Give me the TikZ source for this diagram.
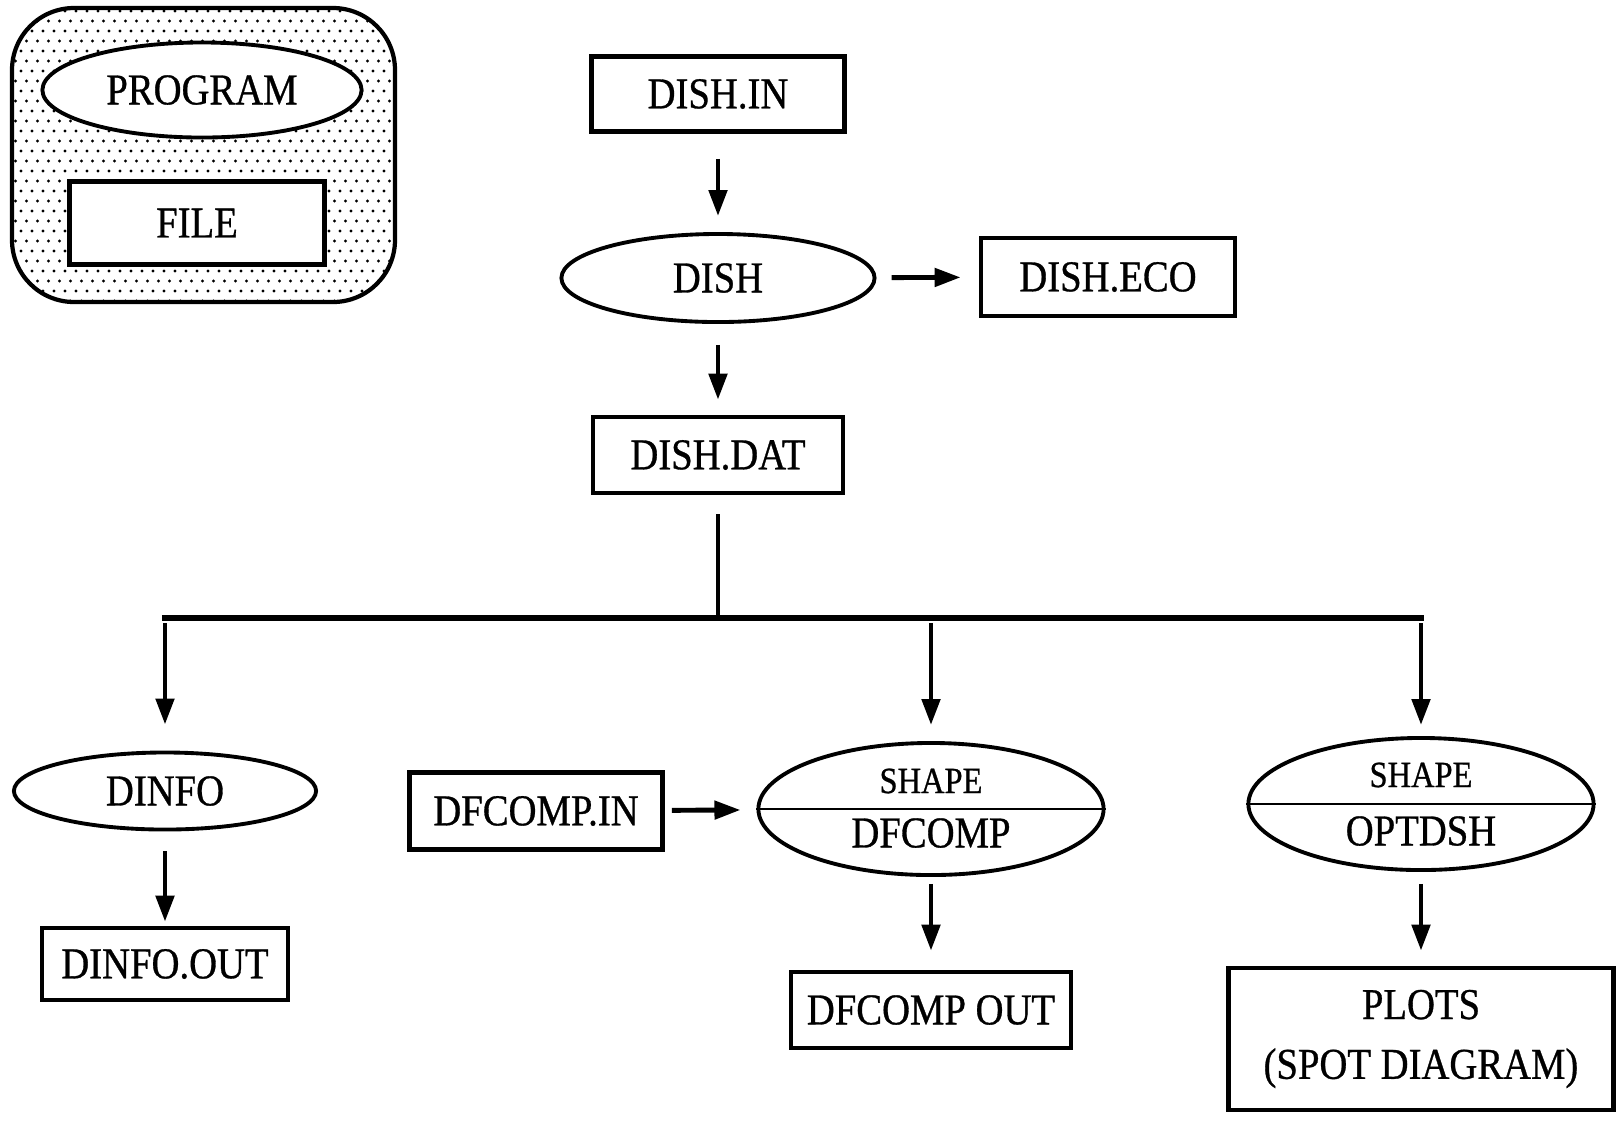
\documentclass[tikz,border=0pt]{standalone}
\usepackage{fontspec}
\setmainfont[FakeStretch=0.88, FakeBold=0.7]{Liberation Serif}
\usepackage{tikz}
\usetikzlibrary{positioning, shapes.geometric, arrows.meta, calc}
\newcommand{\chartfont}{\fontsize{12.5pt}{17pt}\selectfont}
\newcommand{\tagfont}{\fontsize{10.5pt}{12pt}\selectfont}
\tikzset{
  % ellipse = program
  prog/.style={ellipse, draw, line width=1.1pt, fill=white,
               inner sep=0pt, font=\chartfont},
  % rectangle = file
  filebox/.style={rectangle, draw, line width=1.3pt, fill=white,
                  inner sep=0pt, font=\chartfont, align=center},
  % small heading inside a split ellipse
  tag/.style={inner sep=0pt, font=\tagfont},
  % thin rule across a split ellipse
  divider/.style={line width=0.5pt},
  % data flow arrow
  flow/.style={-{Triangle[length=0.26cm,width=0.18cm]}, line width=1.4pt},
  % plain connector to the bus
  stem/.style={line width=1.2pt},
  busline/.style={line width=1.5pt},
}
\newcommand{\legenddots}{%
  \foreach \r in {0,...,29}
    \foreach \c in {0,...,36}
      \fill ({10+\c*11+mod(\r,2)*5.5},{11+\r*10}) circle (0.016cm);%
}

\begin{document}
\begin{tikzpicture}[x=0.01cm, y=-0.01cm]
  \useasboundingbox (0,0) rectangle (1617,1120);
  % legend
  \begin{scope}
    \clip[rounded corners=0.62cm] (12,8) rectangle (395,302);
    \legenddots
  \end{scope}
  \draw[line width=1.2pt, rounded corners=0.62cm] (12,8) rectangle (395,302);
  \node[prog, minimum width=3.19cm, minimum height=0.95cm] (legprog) at (202,90) {PROGRAM};
  \node[filebox, minimum width=2.55cm, minimum height=0.83cm] (legfile) at (197,223) {FILE};

  % main chain
  \node[filebox, minimum width=2.53cm, minimum height=0.75cm] (dishin) at (718,94) {DISH.IN};
  \node[prog, minimum width=3.13cm, minimum height=0.88cm] (dish) at (718,278) {DISH};
  \node[filebox, minimum width=2.54cm, minimum height=0.78cm] (disheco) at (1108,277) {DISH.ECO};
  \node[filebox, minimum width=2.50cm, minimum height=0.76cm] (dishdat) at (718,455) {DISH.DAT};
  \coordinate (bus) at (718,618);

  \draw[flow, shorten <=0.25cm, shorten >=0.16cm] (dishin) -- (dish);
  \draw[flow, shorten <=0.15cm, shorten >=0.18cm] (dish) -- (disheco);
  \draw[flow, shorten <=0.21cm, shorten >=0.15cm] (dish) -- (dishdat);
  \draw[stem, shorten <=0.19cm] (dishdat) -- (bus);

  % branches
  \node[prog, minimum width=3.02cm, minimum height=0.77cm] (dinfo) at (165,791) {DINFO};
  \node[filebox, minimum width=2.46cm, minimum height=0.72cm] (dinfoout) at (165,964) {DINFO.OUT};

  \node[prog, minimum width=3.45cm, minimum height=1.32cm] (dfcomp) at (931,809) {};
  \draw[divider] (dfcomp.west) -- (dfcomp.east);
  \node[tag] (dfcomptag) at ([yshift=0.28cm]dfcomp.center) {SHAPE};
  \node[inner sep=0pt, font=\chartfont] (dfcompname) at ([yshift=-0.24cm]dfcomp.center) {DFCOMP};
  \node[filebox, minimum width=2.53cm, minimum height=0.77cm] (dfcompin) at (536,811) {DFCOMP.IN};
  \node[filebox, minimum width=2.80cm, minimum height=0.76cm] (dfcompout) at (931,1010) {DFCOMP OUT};

  \node[prog, minimum width=3.45cm, minimum height=1.32cm] (optdsh) at (1421,804) {};
  \draw[divider] (optdsh.west) -- (optdsh.east);
  \node[tag] (optdshtag) at ([yshift=0.29cm]optdsh.center) {SHAPE};
  \node[inner sep=0pt, font=\chartfont] (optdshname) at ([yshift=-0.27cm]optdsh.center) {OPTDSH};
  \node[filebox, minimum width=3.85cm, minimum height=1.42cm] (plots) at (1421,1039)
    {PLOTS\\(SPOT DIAGRAM)};

  \draw[busline] ([xshift=-0.03cm]dinfo |- bus) -- ([xshift=0.03cm]optdsh |- bus);
  \draw[flow, shorten <=0.05cm, shorten >=0.26cm] (dinfo |- bus) -- (dinfo);
  \draw[flow, shorten <=0.05cm, shorten >=0.16cm] (dfcomp |- bus) -- (dfcomp);
  \draw[flow, shorten <=0.05cm, shorten >=0.11cm] (optdsh |- bus) -- (optdsh);

  \draw[flow, shorten <=0.20cm, shorten >=0.04cm] (dinfo) -- (dinfoout);
  \draw[flow, shorten <=0.07cm, shorten >=0.16cm] (dfcompin) -- (dfcomp);
  \draw[flow, shorten <=0.07cm, shorten >=0.19cm] (dfcomp) -- (dfcompout);
  \draw[flow, shorten <=0.12cm, shorten >=0.15cm] (optdsh) -- (plots);
\end{tikzpicture}
\end{document}
